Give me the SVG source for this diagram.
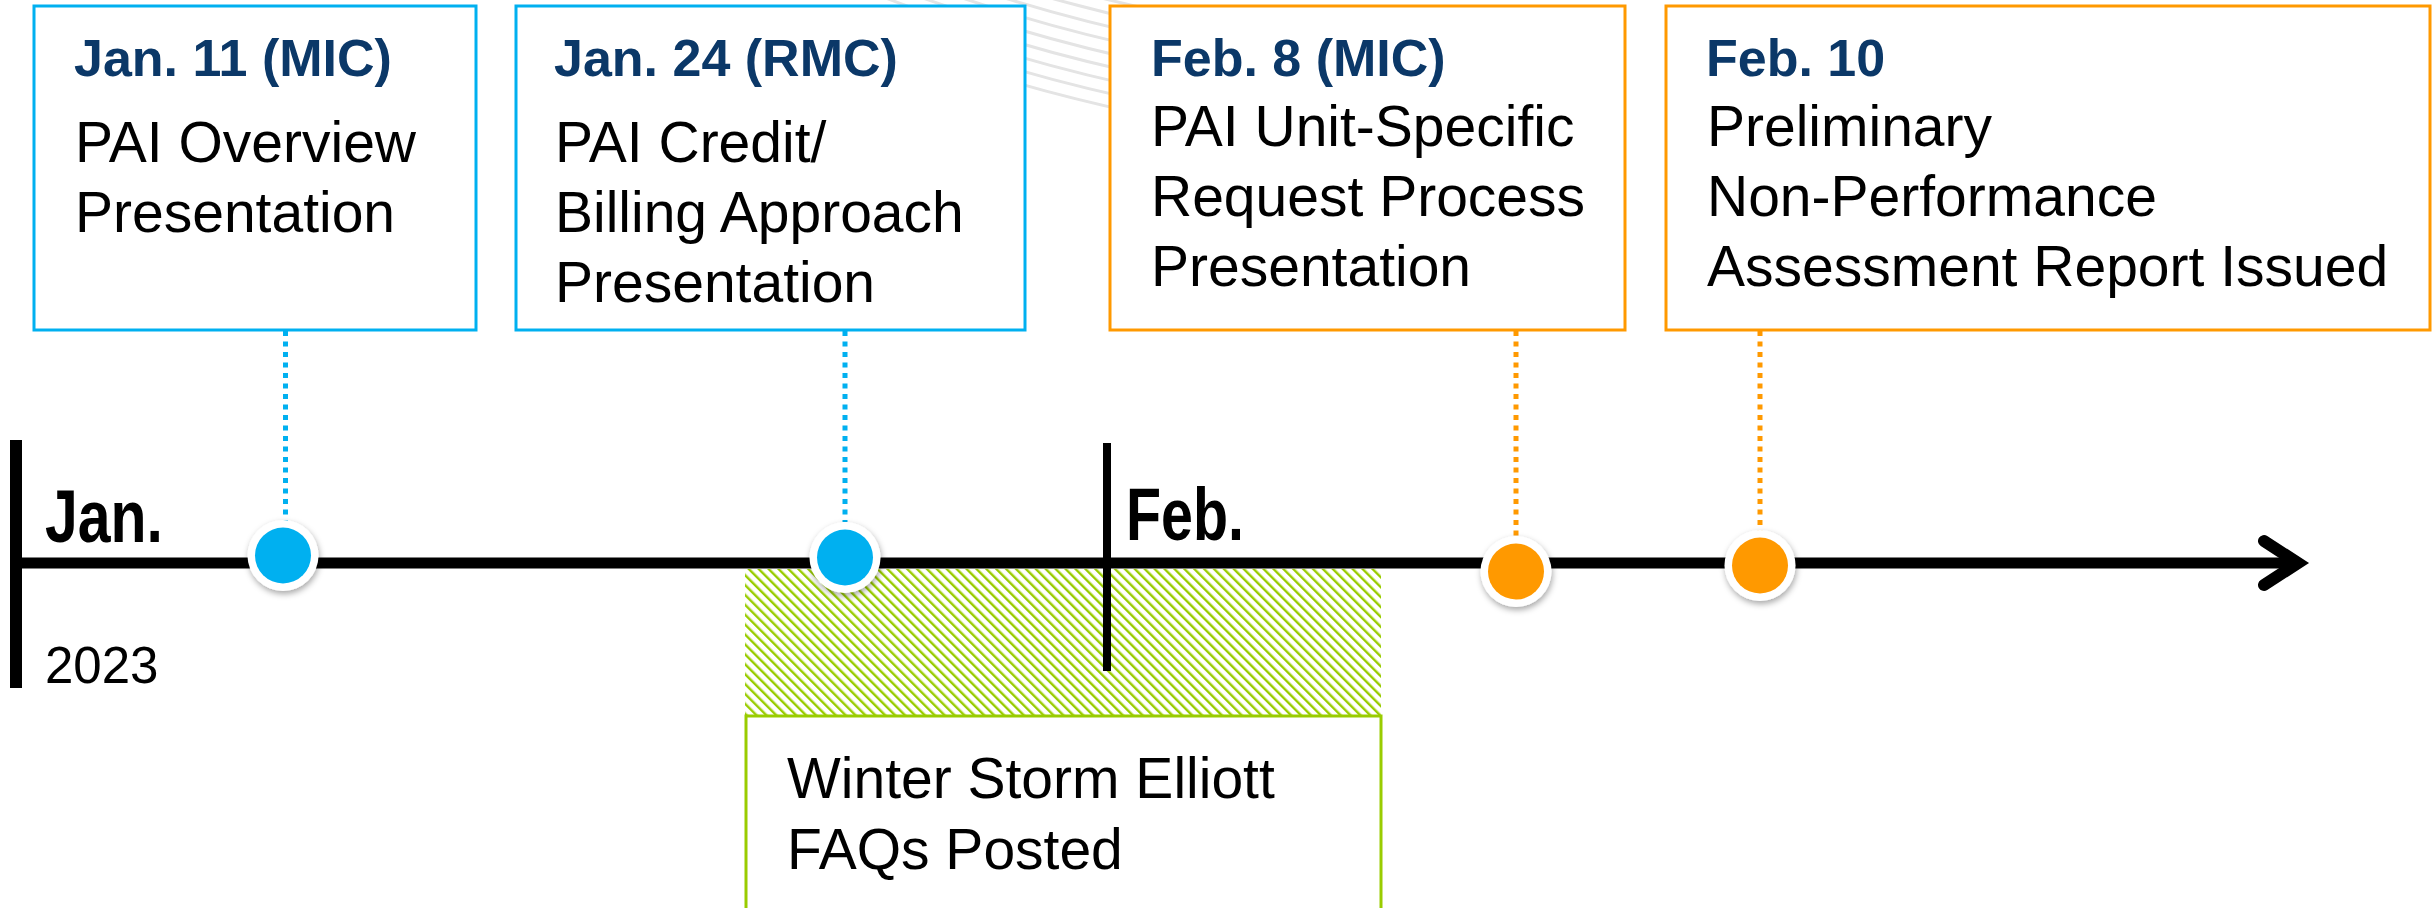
<svg xmlns="http://www.w3.org/2000/svg" width="2435" height="908" viewBox="0 0 2435 908">
<style>
.box{fill:#ffffff;stroke-width:3}
.blue{stroke:#00b0f0}
.orange{stroke:#ff9900}
.title{font-family:"Liberation Sans",Arial,sans-serif;font-weight:bold;font-size:52px;fill:#0b3868}
.body{font-family:"Liberation Sans",Arial,sans-serif;font-size:57px;fill:#000000}
.month{font-family:"Liberation Sans",Arial,sans-serif;font-weight:bold;font-size:74px;fill:#000000}
.dash{fill:none;stroke-width:5;stroke-dasharray:5 5.5}
.arc{fill:none;stroke:#e4e4e4;stroke-width:3}
.dotouter{fill:#ffffff;filter:url(#sh)}
</style>
<defs>
<pattern id="hatch" patternUnits="userSpaceOnUse" width="7" height="7" patternTransform="rotate(-45)">
<rect x="0" y="0" width="2.4" height="7" fill="#99cc00"/>
</pattern>
<filter id="sh" x="-50%" y="-50%" width="200%" height="200%">
<feDropShadow dx="1" dy="3" stdDeviation="3" flood-color="#000000" flood-opacity="0.35"/>
</filter>
<clipPath id="arcclip"><rect x="880" y="0" width="280" height="112"/></clipPath>
</defs>
<rect x="0" y="0" width="2435" height="908" fill="#ffffff"/>
<g id="watermark" clip-path="url(#arcclip)">
<circle class="arc" cx="1500" cy="-1600" r="1647"/>
<circle class="arc" cx="1500" cy="-1600" r="1660"/>
<circle class="arc" cx="1500" cy="-1600" r="1673"/>
<circle class="arc" cx="1500" cy="-1600" r="1686"/>
<circle class="arc" cx="1500" cy="-1600" r="1699"/>
<circle class="arc" cx="1500" cy="-1600" r="1712"/>
<circle class="arc" cx="1500" cy="-1600" r="1725"/>
<circle class="arc" cx="1500" cy="-1600" r="1738"/>
<circle class="arc" cx="1500" cy="-1600" r="1751"/>
</g>
<g id="storm-period">
<rect x="745" y="569" width="636" height="146" fill="url(#hatch)"/>
</g>
<g id="connectors">
<line class="dash blue" x1="285.5" y1="331" x2="285.5" y2="522"/>
<line class="dash blue" x1="845" y1="331" x2="845" y2="522"/>
<line class="dash orange" x1="1516" y1="331" x2="1516" y2="537"/>
<line class="dash orange" x1="1760" y1="331" x2="1760" y2="531"/>
</g>
<g id="timeline">
<line x1="16" y1="440" x2="16" y2="688" stroke="#000" stroke-width="12"/>
<line x1="1107" y1="443" x2="1107" y2="671" stroke="#000" stroke-width="8"/>
<line x1="16" y1="563" x2="2298" y2="563" stroke="#000" stroke-width="11"/>
<polyline points="2264,541 2298,563 2264,585" fill="none" stroke="#000" stroke-width="12" stroke-linecap="round" stroke-linejoin="miter"/>
<text class="month" x="45" y="542" textLength="118" lengthAdjust="spacingAndGlyphs">Jan.</text>
<text class="month" x="1126" y="540" textLength="118" lengthAdjust="spacingAndGlyphs">Feb.</text>
<text class="body" x="45" y="683" style="font-size:51px">2023</text>
</g>
<g id="dot-jan11">
<circle class="dotouter" cx="283" cy="555.5" r="35.5"/>
<circle cx="283" cy="555.5" r="28" fill="#00b0f0"/>
</g>
<g id="dot-jan24">
<circle class="dotouter" cx="845" cy="557.5" r="35.5"/>
<circle cx="845" cy="557.5" r="28" fill="#00b0f0"/>
</g>
<g id="dot-feb8">
<circle class="dotouter" cx="1516" cy="571.5" r="35.5"/>
<circle cx="1516" cy="571.5" r="28" fill="#ff9900"/>
</g>
<g id="dot-feb10">
<circle class="dotouter" cx="1760" cy="565.5" r="35.5"/>
<circle cx="1760" cy="565.5" r="28" fill="#ff9900"/>
</g>
<g id="box-jan11">
<rect class="box blue" x="34" y="6" width="442" height="324"/>
<text class="title" x="74" y="76">Jan. 11 (MIC)</text>
<text class="body" x="75" y="162">PAI Overview</text>
<text class="body" x="75" y="232">Presentation</text>
</g>
<g id="box-jan24">
<rect class="box blue" x="516" y="6" width="509" height="324"/>
<text class="title" x="554" y="76">Jan. 24 (RMC)</text>
<text class="body" x="555" y="162">PAI Credit/</text>
<text class="body" x="555" y="232">Billing Approach</text>
<text class="body" x="555" y="302">Presentation</text>
</g>
<g id="box-feb8">
<rect class="box orange" x="1110" y="6" width="515" height="324"/>
<text class="title" x="1151" y="76">Feb. 8 (MIC)</text>
<text class="body" x="1151" y="146">PAI Unit-Specific</text>
<text class="body" x="1151" y="216">Request Process</text>
<text class="body" x="1151" y="286">Presentation</text>
</g>
<g id="box-feb10">
<rect class="box orange" x="1666" y="6" width="764" height="324"/>
<text class="title" x="1706" y="76">Feb. 10</text>
<text class="body" x="1707" y="146">Preliminary</text>
<text class="body" x="1707" y="216">Non-Performance</text>
<text class="body" x="1707" y="286">Assessment Report Issued</text>
</g>
<g id="box-storm">
<rect x="746" y="716" width="635" height="220" fill="#ffffff" stroke="#99cc00" stroke-width="3"/>
<text class="body" x="787" y="798">Winter Storm Elliott</text>
<text class="body" x="787" y="869">FAQs Posted</text>
</g>
</svg>
